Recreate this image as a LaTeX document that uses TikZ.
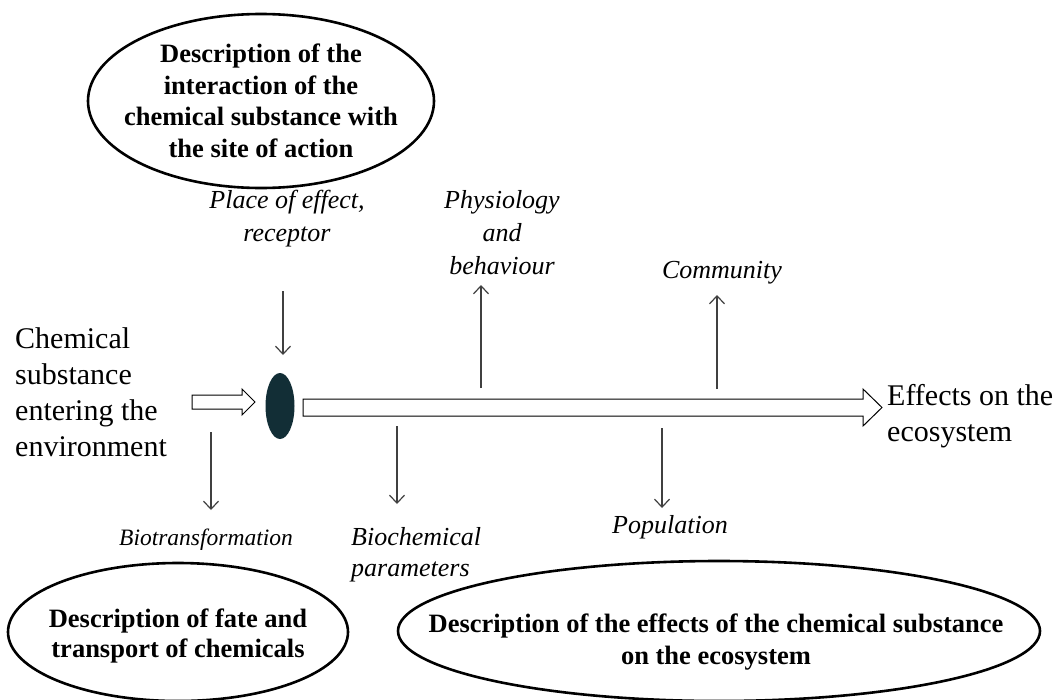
\documentclass[tikz,border=0pt]{standalone}
\usepackage{fontspec}
\setmainfont{Liberation Serif}
\usetikzlibrary{arrows.meta}
\definecolor{darkteal}{RGB}{18,46,54}
\begin{document}
\begin{tikzpicture}[x=1pt,y=-1pt,
  lab/.style={font=\fontsize{26}{33}\selectfont\itshape, inner sep=0pt, align=center},
  labl/.style={font=\fontsize{26}{31}\selectfont\itshape, inner sep=0pt, align=left},
  bigtxt/.style={font=\fontsize{30}{36}\selectfont, inner sep=0pt, align=left},
  otxt/.style={font=\fontsize{26.5}{31.5}\selectfont\bfseries, inner sep=0pt, align=center},
  oval/.style={draw=black, line width=2.6pt},
  thinarrow/.style={draw=black!75, line width=1.2pt, -{Straight Barb[length=8pt,width=15pt,line width=1.2pt]}},
  hollow/.style={draw=black, line width=1pt, fill=white}
]
\useasboundingbox (0,0) rectangle (1057,699);

% ovals
\draw[oval] (261,101) ellipse [x radius=173pt, y radius=87pt];
\node[otxt] (ttop) at (261,101) {Description of the\\interaction of the\\chemical substance with\\the site of action};

\draw[oval] (178,632) ellipse [x radius=170pt, y radius=69pt];
\node[otxt, font=\fontsize{26.5}{30}\selectfont\bfseries] (tleft) at (178,636) {Description of fate and\\transport of chemicals};

\draw[oval] (719,631) ellipse [x radius=321pt, y radius=70pt];
\node[otxt, font=\fontsize{26.5}{32}\selectfont\bfseries] (tright) at (716,642) {Description of the effects of the chemical substance\\on the ecosystem};

% main texts
\node[bigtxt, anchor=north west] (chem) at (15,327) {Chemical\\substance\\entering the\\environment};
\node[bigtxt, anchor=north west] (eff) at (887,384.5) {Effects on the\\ecosystem};

% hollow arrows
\draw[hollow] (192,395) -- (242,395) -- (242,389) -- (255,402) -- (242,415) -- (242,409) -- (192,409) -- cycle;
\draw[hollow] (303,399) -- (863,399) -- (863,389) -- (882,407.5) -- (863,426) -- (863,416) -- (303,416) -- cycle;

% site of action
\fill[darkteal] (280,406) ellipse [x radius=14.5pt, y radius=33pt];
\node[inner sep=0pt, minimum width=29pt, minimum height=66pt] (site) at (280,406) {};

% labels
\node[lab, anchor=north] (place) at (287,190) {Place of effect,\\receptor};
\node[lab, anchor=north] (phys) at (502,190) {Physiology\\and\\behaviour};
\node[lab, anchor=base] (comm) at (722,278) {Community};
\node[lab, font=\fontsize{23.5}{30}\selectfont\itshape, anchor=base] (biot) at (206,545) {Biotransformation};
\node[labl, anchor=north west] (bioch) at (351,527) {Biochemical\\parameters};
\node[lab, anchor=base] (pop) at (670,533) {Population};

% thin arrows
\coordinate (a1s) at (283,291); \coordinate (a1e) at (283,355);
\coordinate (a2s) at (481,388); \coordinate (a2e) at (481,285);
\coordinate (a3s) at (717,389); \coordinate (a3e) at (717,295);
\coordinate (a4s) at (211,432); \coordinate (a4e) at (211,510);
\coordinate (a5s) at (397,426); \coordinate (a5e) at (397,504);
\coordinate (a6s) at (662,428); \coordinate (a6e) at (662,508);
\draw[thinarrow] (a1s) -- (a1e);
\draw[thinarrow] (a2s) -- (a2e);
\draw[thinarrow] (a3s) -- (a3e);
\draw[thinarrow] (a4s) -- (a4e);
\draw[thinarrow] (a5s) -- (a5e);
\draw[thinarrow] (a6s) -- (a6e);
\end{tikzpicture}
\end{document}
